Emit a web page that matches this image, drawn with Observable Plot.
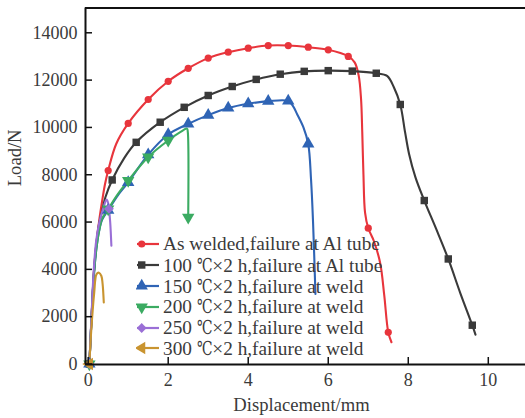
<!DOCTYPE html>
<html><head><meta charset="utf-8">
<script src="https://cdn.jsdelivr.net/npm/d3@7"></script>
<script src="https://cdn.jsdelivr.net/npm/@observablehq/plot@0.6"></script>
<style>
body{margin:0;background:#fff;}
#wrap{position:relative;width:525px;height:418px;overflow:hidden;}
#legend{position:absolute;left:136px;top:234px;font-family:"Liberation Serif","DejaVu Serif",serif;font-size:19.3px;color:#3a3a3a;}
.row{height:20.8px;display:flex;align-items:center;white-space:nowrap;}
.row svg{width:27px;height:20px;flex:none;}
.deg{display:inline-block;transform:scaleX(0.72);transform-origin:left center;margin-right:-6px;}
</style></head><body><div id="wrap"><div id="legend"></div></div>
<script>
// ---- data ----
const seriesNames = ["As welded,failure at Al tube","100 ℃×2 h,failure at Al tube","150 ℃×2 h,failure at weld","200 ℃×2 h,failure at weld","250 ℃×2 h,failure at weld","300 ℃×2 h,failure at weld"];
const xTicks = [0,2,4,6,8,10];
const yTicks = [0,2000,4000,6000,8000,10000,12000,14000];
const xLabel = "Displacement/mm";
const yLabel = "Load/N";

const redLine = [[0.03,0],[0.08,1800],[0.14,3800],[0.2,5000],[0.27,6000],[0.35,6900],[0.42,7600],[0.5,8180],[0.7,9300],[1.0,10170],[1.5,11180],[2.0,11950],[2.5,12500],[3.0,12930],[3.5,13180],[4.0,13350],[4.5,13460],[5.0,13460],[5.5,13390],[6.0,13280],[6.5,13000],[6.66,12750],[6.76,12200],[6.82,11200],[6.85,9800],[6.88,8000],[6.92,6400],[7.0,5740],[7.14,5200],[7.3,4250],[7.4,2900],[7.5,1340],[7.58,920]];
const redMarks = [[0.03,0],[0.5,8180],[1.0,10170],[1.5,11180],[2.0,11950],[2.5,12500],[3.0,12930],[3.5,13180],[4.0,13350],[4.5,13460],[5.0,13460],[5.5,13390],[6.0,13280],[6.5,13000],[7.0,5740],[7.5,1340]];

const blackLine = [[0.03,0],[0.08,1800],[0.14,3800],[0.2,5000],[0.27,5900],[0.35,6480],[0.43,7050],[0.6,7780],[0.9,8700],[1.2,9370],[1.8,10220],[2.4,10850],[3.0,11350],[3.6,11730],[4.2,12030],[4.8,12250],[5.4,12370],[6.0,12400],[6.6,12380],[7.2,12290],[7.47,12180],[7.64,11700],[7.8,10970],[7.92,9800],[8.02,8880],[8.18,7890],[8.4,6910],[8.7,5700],[9.0,4440],[9.3,3000],[9.6,1640],[9.68,1240]];
const blackMarks = [[0.03,0],[0.6,7780],[1.2,9370],[1.8,10220],[2.4,10850],[3.0,11350],[3.6,11730],[4.2,12030],[4.8,12250],[5.4,12370],[6.0,12400],[6.6,12380],[7.2,12290],[7.8,10970],[8.4,6910],[9.0,4440],[9.6,1640]];

const blueLine = [[0.03,0],[0.08,1800],[0.14,3700],[0.2,4800],[0.27,5600],[0.35,6100],[0.5,6500],[0.75,7150],[1.0,7680],[1.5,8850],[2.0,9700],[2.5,10150],[3.0,10520],[3.5,10820],[4.0,11000],[4.5,11110],[5.0,11120],[5.12,10900],[5.22,10570],[5.38,10000],[5.5,9300],[5.57,7800],[5.62,6000],[5.68,2960]];
const blueMarks = [[0.03,0],[0.5,6500],[1.0,7680],[1.5,8850],[2.0,9700],[2.5,10150],[3.0,10520],[3.5,10820],[4.0,11000],[4.5,11110],[5.0,11120],[5.5,9300]];

const greenLine = [[0.03,0],[0.08,1800],[0.14,3700],[0.2,4800],[0.27,5600],[0.35,6150],[0.5,6550],[0.75,7200],[1.0,7750],[1.5,8750],[2.0,9450],[2.3,9800],[2.47,9950],[2.49,9800],[2.5,6200]];
const greenMarks = [[0.03,0],[0.5,6550],[1.0,7750],[1.5,8750],[2.0,9450],[2.5,6200]];

const purpleLine = [[0.03,0],[0.08,1900],[0.14,4000],[0.2,5200],[0.28,6000],[0.38,6600],[0.46,6950],[0.5,6800],[0.52,6560],[0.55,6000],[0.58,5000]];
const purpleMarks = [[0.03,0],[0.52,6560]];

const orangeLine = [[0.03,0],[0.08,1500],[0.15,3000],[0.21,3800],[0.27,3860],[0.33,3720],[0.36,3400],[0.39,2600]];
const orangeMarks = [[0.03,0]];

// ---- styles ----
const colors = ["#e8353c","#3a3a3a","#2f64b5","#3bab62","#9a6fd6","#c99430"];
const sq3 = Math.sqrt(3);
const triDown = {draw(c, s){const y=-Math.sqrt(s/(sq3*3)); c.moveTo(0,-2*y); c.lineTo(-sq3*y,y); c.lineTo(sq3*y,y); c.closePath();}};
const triLeft = {draw(c, s){const y=-Math.sqrt(s/(sq3*3)); c.moveTo(2*y,0); c.lineTo(-y,-sq3*y); c.lineTo(-y,sq3*y); c.closePath();}};
const symbols = ["circle","square",d3.symbolTriangle,triDown,"diamond2",triLeft];
const radii = [3.6,4.2,4.6,4.6,4.4,4.6];
const lines = [redLine,blackLine,blueLine,greenLine,purpleLine,orangeLine];
const marks = [redMarks,blackMarks,blueMarks,greenMarks,purpleMarks,orangeMarks];

const xDomain = [-0.067, 10.93];
const yDomain = [-21, 15048];
const W = 525, H = 418, mL = 85, mR = 0, mT = 7.5, mB = 54;
const innerW = W - mL - mR, innerH = H - mT - mB;
const ink = "#111";
const txt = "#3a3a3a";

const plotMarks = [];
lines.forEach((ln, i) => {
  plotMarks.push(Plot.line(ln, {x: d => d[0], y: d => d[1], stroke: colors[i], strokeWidth: 2.1, curve: "catmull-rom"}));
});
marks.forEach((mk, i) => {
  plotMarks.push(Plot.dot(mk, {x: d => d[0], y: d => d[1], fill: colors[i], stroke: "none", symbol: symbols[i], r: radii[i]}));
});

const chart = Plot.plot({
  width: W, height: H,
  marginLeft: mL, marginRight: mR, marginTop: mT, marginBottom: mB,
  style: {fontFamily: '"Liberation Serif","DejaVu Serif",serif', background: "#fff", overflow: "visible"},
  x: {domain: xDomain, axis: null},
  y: {domain: yDomain, axis: null},
  marks: [
    ...plotMarks,
    Plot.ruleX([xDomain[0]], {x: d => d, stroke: ink, strokeWidth: 2}),
    Plot.ruleY([yDomain[0]], {y: d => d, stroke: ink, strokeWidth: 2}),
    Plot.ruleY([yDomain[1]], {y: d => d, stroke: ink, strokeWidth: 2}),
    Plot.tickX(xTicks, {x: d => d, stroke: ink, strokeWidth: 1.5, insetTop: innerH - 7}),
    Plot.tickY(yTicks, {y: d => d, stroke: ink, strokeWidth: 1.5, insetRight: innerW - 7}),
    Plot.axisX(xTicks, {tickSize: 0, tickPadding: 9, fontSize: 18, fill: txt, label: null, tickFormat: d => String(d)}),
    Plot.axisY(yTicks, {tickSize: 0, tickPadding: 8, fontSize: 18, fill: txt, label: null, tickFormat: d => String(d)}),
    Plot.text([xLabel], {text: d => d, frameAnchor: "bottom", dy: 46, dx: -4, lineAnchor: "bottom", fontSize: 18.6, fill: txt}),
    Plot.text([yLabel], {text: d => d, frameAnchor: "left", dx: -70, rotate: -90, fontSize: 18.6, fill: txt})
  ]
});
document.getElementById("wrap").prepend(chart);

// legend
const lg = document.getElementById("legend");
seriesNames.forEach((name, i) => {
  const row = document.createElement("div");
  row.className = "row";
  const s = d3.create("svg").attr("width", 27).attr("height", 20);
  s.append("line").attr("x1", 1).attr("x2", 23).attr("y1", 10).attr("y2", 10).attr("stroke", colors[i]).attr("stroke-width", 2.2);
  const symMap = {"circle": d3.symbolCircle, "square": d3.symbolSquare, "diamond2": d3.symbolDiamond2};
  const sym = typeof symbols[i] === "string" ? symMap[symbols[i]] : symbols[i];
  s.append("path").attr("transform", "translate(5.7,10)").attr("d", d3.symbol(sym, radii[i]*radii[i]*Math.PI)()).attr("fill", colors[i]);
  row.appendChild(s.node());
  const t = document.createElement("span");
  name.split(/(℃)/).forEach(part => {
    if (!part) return;
    if (part === "℃") {
      const d = document.createElement("span");
      d.className = "deg";
      d.textContent = part;
      t.appendChild(d);
    } else {
      t.appendChild(document.createTextNode(part));
    }
  });
  row.appendChild(t);
  lg.appendChild(row);
});
</script>
</body></html>
